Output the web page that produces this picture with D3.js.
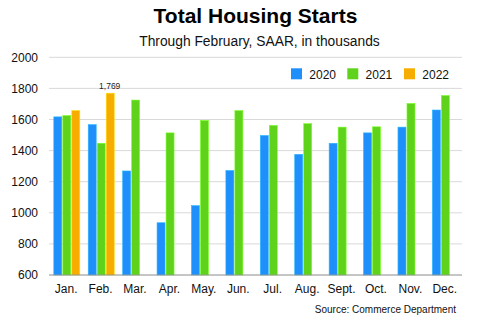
<!DOCTYPE html>
<html><head><meta charset="utf-8">
<script src="https://cdn.jsdelivr.net/npm/d3@7"></script>
<style>body{margin:0;background:#fff}svg{display:block;font-family:"Liberation Sans",Arial,Helvetica,sans-serif}</style>
</head><body><svg id="c" width="480" height="322"></svg>
<script>
const months = ["Jan.","Feb.","Mar.","Apr.","May.","Jun.","Jul.","Aug.","Sept.","Oct.","Nov.","Dec."];
const seriesNames = ["2020","2021","2022"];
const s2020 = [1617,1567,1269,936,1046,1272,1497,1376,1447,1514,1551,1661];
const s2021 = [1625,1447,1725,1514,1594,1657,1562,1573,1551,1553,1703,1754];
const s2022 = [1657,1769,null,null,null,null,null,null,null,null,null,null];
const yTicks = [600,800,1000,1200,1400,1600,1800,2000];
const colors = ["#1f8ffc","#5fd31b","#f7ac00"];

const svg = d3.select("#c");
const L = 49, R = 462, T = 57.3, B = 275;
const x = d3.scaleBand().domain(months).range([L, R]);
const xi = d3.scaleBand().domain(seriesNames).range([4.8, 31.8]);
const y = d3.scaleLinear().domain([600, 2000]).range([B, T]);

// gridlines
svg.append("g").selectAll("line").data(yTicks.slice(1)).join("line")
  .attr("x1", L).attr("x2", R).attr("y1", d => y(d)).attr("y2", d => y(d))
  .attr("stroke", "#d9d9d9").attr("stroke-width", 1);

// y labels
svg.append("g").selectAll("text").data(yTicks).join("text")
  .attr("x", 38).attr("y", d => y(d) + 4.3).attr("text-anchor", "end")
  .attr("font-size", 12).attr("fill", "#111").text(d => d);

// bars
const all = [s2020, s2021, s2022];
const data = [];
all.forEach((arr, si) => arr.forEach((v, mi) => { if (v != null) data.push({m: months[mi], s: seriesNames[si], si, v}); }));
svg.append("g").selectAll("rect").data(data).join("rect")
  .attr("x", d => x(d.m) + xi(d.s))
  .attr("width", xi.bandwidth() - 1)
  .attr("y", d => y(d.v))
  .attr("height", d => B - y(d.v))
  .attr("fill", d => colors[d.si])
  .attr("stroke", d => d3.color(colors[d.si]).brighter(0.7))
  .attr("stroke-width", 0.6);

// bottom axis line
svg.append("line").attr("x1", L).attr("x2", R).attr("y1", B).attr("y2", B)
  .attr("stroke", "#8c8c8c").attr("stroke-width", 1);

// x labels
svg.append("g").selectAll("text").data(months).join("text")
  .attr("x", d => x(d) + x.bandwidth() / 2).attr("y", 292.7).attr("text-anchor", "middle")
  .attr("font-size", 12).attr("fill", "#111").text(d => d);

// annotation
const feb22 = data.find(d => d.m === "Feb." && d.s === "2022");
svg.append("text").attr("x", x(feb22.m) + xi(feb22.s) + (xi.bandwidth() - 1) / 2 - 0.5)
  .attr("y", y(feb22.v) - 4).attr("text-anchor", "middle").attr("font-size", 8.5).attr("fill", "#222")
  .text(d3.format(",")(feb22.v));

// title
const cx = (L + R) / 2;
svg.append("text").attr("x", cx).attr("y", 23.3).attr("text-anchor", "middle")
  .attr("font-size", 21).attr("font-weight", "bold").attr("fill", "#000").text("Total Housing Starts");
svg.append("text").attr("x", cx + 4).attr("y", 46.3).attr("text-anchor", "middle")
  .attr("font-size", 13.8).attr("fill", "#111").text("Through February, SAAR, in thousands");

// legend
const legX = [291, 347.3, 404];
const lg = svg.append("g").selectAll("g").data(seriesNames).join("g")
  .attr("transform", (d, i) => `translate(${legX[i]},68.3)`);
lg.append("rect").attr("width", 11).attr("height", 11).attr("fill", (d, i) => colors[i]);
lg.append("text").attr("x", 18.3).attr("y", 10.2).attr("font-size", 12).attr("fill", "#111").text(d => d);

// source
svg.append("text").attr("x", 456).attr("y", 312.7).attr("text-anchor", "end")
  .attr("font-size", 10).attr("fill", "#111").text("Source: Commerce Department");
</script></body></html>
